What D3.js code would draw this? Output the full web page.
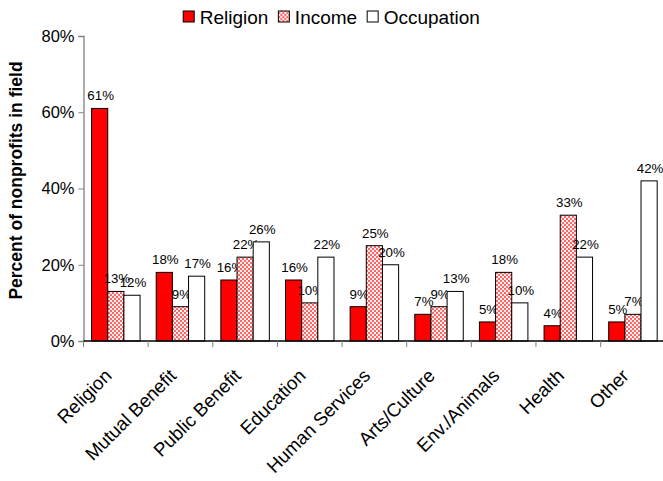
<!DOCTYPE html>
<html>
<head>
<meta charset="utf-8">
<script src="https://cdn.jsdelivr.net/npm/d3@7"></script>
<style>
  html, body { margin: 0; padding: 0; background: #fff; }
  svg { display: block; font-family: Arial, "Liberation Sans", sans-serif; }
</style>
</head>
<body>
<svg id="chart" width="663" height="481"></svg>
<script>
// Fields of nonprofit activity
const categories = ["Religion", "Mutual Benefit", "Public Benefit", "Education",
  "Human Services", "Arts/Culture", "Env./Animals", "Health", "Other"];

// Share of nonprofits in each field (percent), by grouping basis
const religion   = [61, 18, 16, 16, 9, 7, 5, 4, 5];
const income     = [13, 9, 22, 10, 25, 9, 18, 33, 7];
const occupation = [12, 17, 26, 22, 20, 13, 10, 22, 42];

const seriesNames = ["Religion", "Income", "Occupation"];
const yTicks = [0, 20, 40, 60, 80];

const series = [
  { name: seriesNames[0], values: religion,   fill: "#ff0000" },
  { name: seriesNames[1], values: income,     fill: "url(#dots)" },
  { name: seriesNames[2], values: occupation, fill: "#ffffff" }
];

const svg = d3.select("#chart");

// Dotted fill for the Income bars: red dots on a pale pink ground
const defs = svg.append("defs");
const pat = defs.append("pattern")
  .attr("id", "dots").attr("patternUnits", "userSpaceOnUse")
  .attr("width", 4).attr("height", 4);
pat.append("rect").attr("width", 4).attr("height", 4).attr("fill", "#fff0f0");
pat.append("circle").attr("cx", 1).attr("cy", 1).attr("r", 0.95).attr("fill", "#ff2a2a");
pat.append("circle").attr("cx", 3).attr("cy", 3).attr("r", 0.95).attr("fill", "#ff2a2a");

const plot = { left: 83.5, top: 36, bottom: 341, step: 64.64 };
plot.right = plot.left + plot.step * categories.length;

const x = d3.scaleBand().domain(categories).range([plot.left, plot.right]).padding(0);
const xs = d3.scaleBand().domain(seriesNames).range([0, x.bandwidth()])
  .paddingInner(0).paddingOuter(0.5);
const y = d3.scaleLinear().domain([0, 80]).range([plot.bottom, plot.top]);

// Y axis
const yAxis = svg.append("g")
  .attr("transform", `translate(${plot.left},0)`)
  .call(d3.axisLeft(y).tickValues(yTicks).tickFormat(d => d + "%").tickSize(5).tickPadding(4));
yAxis.select(".domain").attr("stroke", "#808080").attr("stroke-width", 1.3);
yAxis.selectAll(".tick line").attr("stroke", "#808080");
yAxis.selectAll(".tick text").attr("font-size", 16.5).attr("fill", "#000")
  .attr("font-family", "Arial, 'Liberation Sans', sans-serif");

// Y axis title
svg.append("text")
  .attr("transform", `translate(22,${(plot.top + plot.bottom) / 2 - 8}) rotate(-90)`)
  .attr("text-anchor", "middle")
  .attr("font-size", 17.5).attr("font-weight", "bold")
  .text("Percent of nonprofits in field");

// Bars
const groups = svg.append("g").selectAll("g")
  .data(series).join("g");
groups.selectAll("rect")
  .data(s => s.values.map((v, i) => ({ s, v, c: categories[i] })))
  .join("rect")
  .attr("x", d => x(d.c) + xs(d.s.name))
  .attr("y", d => y(d.v))
  .attr("width", xs.bandwidth())
  .attr("height", d => y(0) - y(d.v))
  .attr("fill", d => d.s.fill)
  .attr("stroke", "#000").attr("stroke-width", 1);

// Value labels
groups.selectAll("text")
  .data(s => s.values.map((v, i) => ({ s, v, c: categories[i] })))
  .join("text")
  .attr("x", d => x(d.c) + xs(d.s.name) + xs.bandwidth() / 2 + 1)
  .attr("y", d => y(d.v) - 8)
  .attr("text-anchor", "middle")
  .attr("font-size", 13.3)
  .text(d => d.v + "%");

// X axis with boundary ticks
const xAxisG = svg.append("g");
xAxisG.append("line")
  .attr("x1", plot.left).attr("x2", plot.right)
  .attr("y1", plot.bottom).attr("y2", plot.bottom)
  .attr("stroke", "#000").attr("stroke-width", 1.5);
xAxisG.selectAll("line.tick")
  .data(categories)
  .join("line").attr("class", "tick")
  .attr("x1", d => x(d)).attr("x2", d => x(d))
  .attr("y1", plot.bottom).attr("y2", plot.bottom + 6)
  .attr("stroke", "#808080");
xAxisG.selectAll("text")
  .data(categories)
  .join("text")
  .attr("transform", d => `translate(${x(d) + x.bandwidth() / 2 - 3},${plot.bottom + 36}) rotate(-45)`)
  .attr("text-anchor", "end")
  .attr("font-size", 18.7)
  .text(d => d);

// Legend
const legend = svg.append("g");
let lx = 0;
series.forEach(s => {
  const g = legend.append("g").attr("transform", `translate(${lx},0)`);
  g.append("rect").attr("x", 0).attr("y", 11).attr("width", 11).attr("height", 11)
    .attr("fill", s.fill).attr("stroke", "#000").attr("stroke-width", 1);
  const t = g.append("text").attr("x", 16.5).attr("y", 23.5)
    .attr("font-size", 19).text(s.name);
  lx += 16.5 + t.node().getComputedTextLength() + 10;
});
const lw = lx - 10;
legend.attr("transform", `translate(${(663 - lw) / 2},0)`);
</script>
</body>
</html>
